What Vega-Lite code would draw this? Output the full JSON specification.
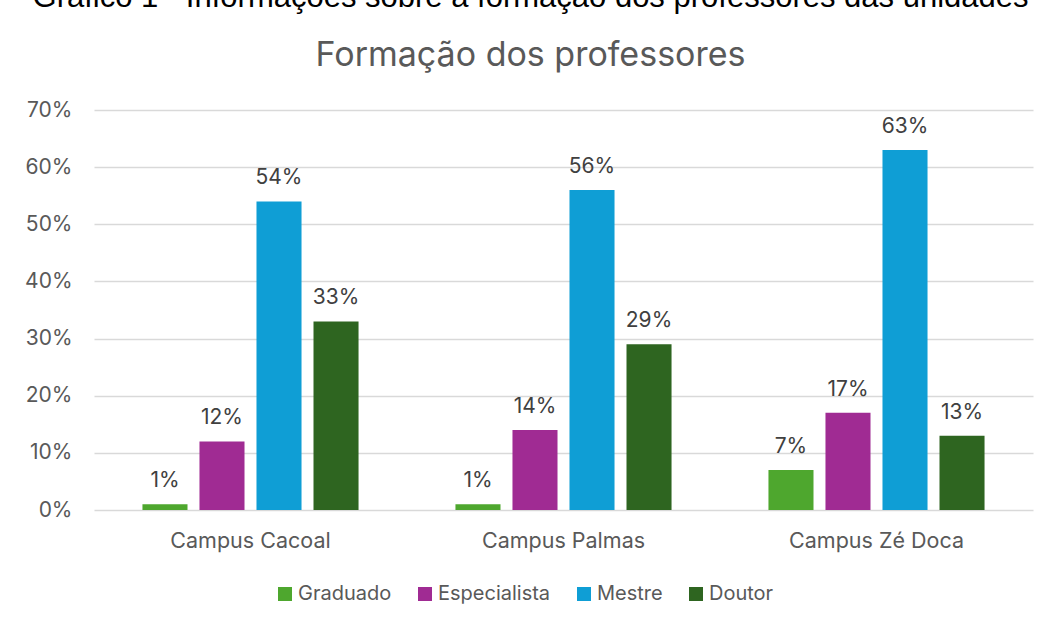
{
  "$schema": "https://vega.github.io/schema/vega-lite/v6.json",
  "autosize": {"type": "none"},
  "width": 939,
  "height": 400,
  "padding": {"left": 94, "top": 110, "right": 18, "bottom": 114},
  "background": "white",
  "title": {
    "text": "Gráfico 1 - Informações sobre a formação dos professores das unidades",
    "subtitle": "Formação dos professores",
    "anchor": "middle",
    "dx": -33,
    "font": "Liberation Sans",
    "fontSize": 31,
    "fontWeight": "normal",
    "color": "#000000",
    "subtitleFont": "Inter",
    "subtitleFontSize": 34,
    "subtitleColor": "#595959",
    "subtitlePadding": 25,
    "offset": 25
  },
  "data": {
    "values": [
      {"campus": "Campus Cacoal", "formacao": "Graduado", "valor": 0.01},
      {"campus": "Campus Cacoal", "formacao": "Especialista", "valor": 0.12},
      {"campus": "Campus Cacoal", "formacao": "Mestre", "valor": 0.54},
      {"campus": "Campus Cacoal", "formacao": "Doutor", "valor": 0.33},
      {"campus": "Campus Palmas", "formacao": "Graduado", "valor": 0.01},
      {"campus": "Campus Palmas", "formacao": "Especialista", "valor": 0.14},
      {"campus": "Campus Palmas", "formacao": "Mestre", "valor": 0.56},
      {"campus": "Campus Palmas", "formacao": "Doutor", "valor": 0.29},
      {"campus": "Campus Zé Doca", "formacao": "Graduado", "valor": 0.07},
      {"campus": "Campus Zé Doca", "formacao": "Especialista", "valor": 0.17},
      {"campus": "Campus Zé Doca", "formacao": "Mestre", "valor": 0.63},
      {"campus": "Campus Zé Doca", "formacao": "Doutor", "valor": 0.13}
    ]
  },
  "encoding": {
    "x": {
      "field": "campus", "type": "nominal", "sort": null,
      "scale": {"paddingInner": 0, "paddingOuter": 0},
      "axis": {"title": null, "labelAngle": 0, "domain": false, "ticks": false,
               "labelFont": "Inter", "labelFontSize": 21.5, "labelColor": "#595959", "labelPadding": 20}
    },
    "xOffset": {
      "field": "formacao", "type": "nominal",
      "sort": ["Graduado", "Especialista", "Mestre", "Doutor"],
      "scale": {"paddingInner": 0.21, "paddingOuter": 0.85}
    },
    "y": {
      "field": "valor", "type": "quantitative",
      "scale": {"domain": [0, 0.7], "nice": false},
      "axis": {"title": null, "format": ".0%", "values": [0, 0.1, 0.2, 0.3, 0.4, 0.5, 0.6, 0.7],
               "domain": false, "ticks": false, "labelFont": "Inter", "labelFontSize": 21,
               "labelColor": "#595959", "labelPadding": 22, "gridColor": "#d9d9d9", "gridWidth": 1.5}
    }
  },
  "layer": [
    {
      "mark": {"type": "bar"},
      "encoding": {
        "color": {
          "field": "formacao", "type": "nominal",
          "sort": ["Graduado", "Especialista", "Mestre", "Doutor"],
          "scale": {"domain": ["Graduado", "Especialista", "Mestre", "Doutor"],
                    "range": ["#4EA72E", "#A02B93", "#0F9ED5", "#2E6520"]},
          "legend": {
            "title": null, "orient": "none", "direction": "horizontal", "columns": 4,
            "legendX": 181, "legendY": 474,
            "symbolType": "square", "symbolSize": 196, "symbolStrokeWidth": 0,
            "labelFont": "Inter", "labelFontSize": 20, "labelColor": "#595959",
            "labelOffset": 3, "columnPadding": 23
          }
        }
      }
    },
    {
      "mark": {"type": "text", "baseline": "bottom", "dy": -13, "font": "Inter", "fontSize": 21, "color": "#404040"},
      "encoding": {
        "text": {"field": "valor", "type": "quantitative", "format": ".0%"}
      }
    }
  ],
  "config": {"view": {"stroke": null}}
}
